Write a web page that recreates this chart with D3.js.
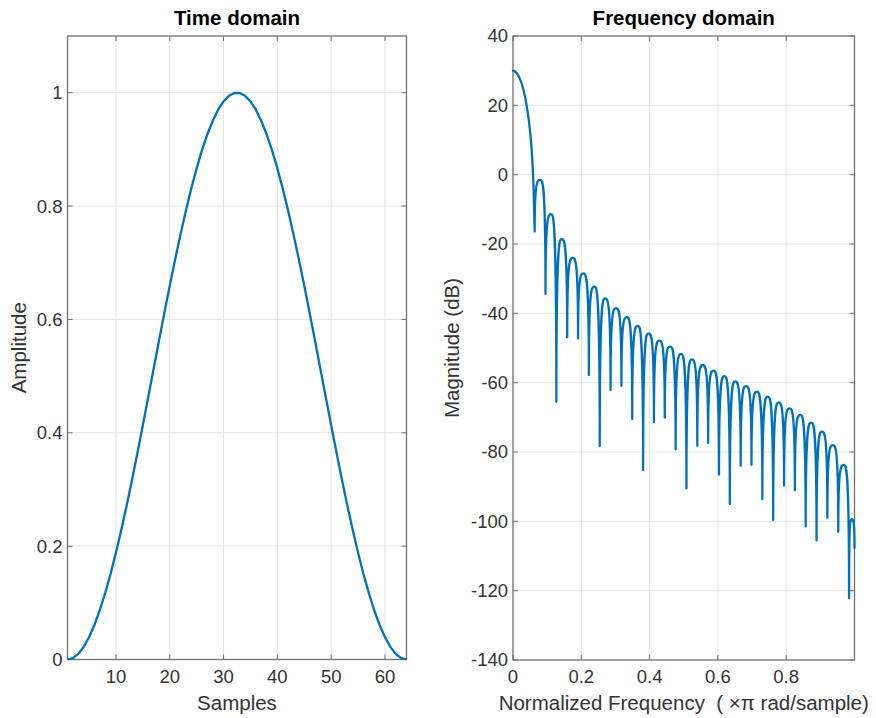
<!DOCTYPE html>
<html>
<head>
<meta charset="utf-8">
<script src="https://cdn.jsdelivr.net/npm/d3@7"></script>
<style>
  body { margin: 0; background: #fff; }
  svg text { font-family: Arial, "Liberation Sans", Helvetica, sans-serif; white-space: pre; }
</style>
</head>
<body>
<div id="chart"></div>
<script>
// Time domain: window amplitude per sample (1..64)
const ampValues = [0, 0.0025, 0.0099, 0.0222, 0.0393, 0.0609, 0.0869, 0.117, 0.1509, 0.1883,
  0.2287, 0.2719, 0.3173, 0.3646, 0.4132, 0.4626, 0.5125, 0.5622, 0.6113, 0.6593,
  0.7057, 0.75, 0.7919, 0.8308, 0.8665, 0.8986, 0.9267, 0.9505, 0.9699, 0.9845,
  0.9944, 0.9994, 0.9994, 0.9944, 0.9845, 0.9699, 0.9505, 0.9267, 0.8986, 0.8665,
  0.8308, 0.7919, 0.75, 0.7057, 0.6593, 0.6113, 0.5622, 0.5125, 0.4626, 0.4132,
  0.3646, 0.3173, 0.2719, 0.2287, 0.1883, 0.1509, 0.117, 0.0869, 0.0609, 0.0393,
  0.0222, 0.0099, 0.0025, 0];
const timeXTicks = [10, 20, 30, 40, 50, 60];
const timeYTicks = [0, 0.2, 0.4, 0.6, 0.8, 1];

// Frequency domain: main lobe, then side lobes between nulls
const mainLobe = [[0, 30], [0.01, 29.4], [0.02, 27.7], [0.03, 24.7], [0.04, 19.9],
  [0.05, 12.5], [0.055, 6.7], [0.06, -3.1], [0.0635, -16.4]];
const nullFreq = [0.0635, 0.0952, 0.1270, 0.1587, 0.1905, 0.2222, 0.2540, 0.2857, 0.3175, 0.3492,
  0.3810, 0.4127, 0.4444, 0.4762, 0.5079, 0.5397, 0.5714, 0.6032, 0.6349, 0.6667,
  0.6984, 0.7302, 0.7619, 0.7937, 0.8254, 0.8571, 0.8889, 0.9206, 0.9524, 0.9841, 1.0];
const nullDb = [-16.4, -34.4, -65.5, -46.9, -47.2, -57.8, -78.3, -62.1, -60.9, -70.5,
  -85.2, -71.4, -70.1, -79.2, -90.5, -78.2, -77.4, -86.5, -95, -84,
  -83.7, -93.6, -99.6, -89.7, -91, -101.5, -105.5, -99, -103, -122.2, -107.7];
const lobePeakDb = [-1.5, -11.4, -18.6, -24, -28.5, -32.3, -35.7, -38.5, -41.1, -43.6,
  -45.8, -47.9, -49.6, -51.7, -53.3, -54.9, -56.5, -58.1, -59.6, -61,
  -62.6, -64, -65.7, -67.4, -69.3, -71.5, -74.1, -78, -83.7, -99.4];
const freqXTicks = [0, 0.2, 0.4, 0.6, 0.8];
const freqYTicks = [-140, -120, -100, -80, -60, -40, -20, 0, 20, 40];

const width = 876, height = 718;
const lineColor = '#0072BD';
const axisColor = '#707070';
const gridColor = '#e3e3e3';
const textColor = '#333333';
const tickLen = 5;

const svg = d3.select('#chart').append('svg')
  .attr('width', width)
  .attr('height', height);
svg.append('rect').attr('width', width).attr('height', height).attr('fill', '#fff');

// draws the box, grid, ticks and labels of one axes
function drawFrame(x, y, xTicks, yTicks, xFmt, yFmt, title, xLabel, yLabel, yLabelX) {
  const [x0, x1] = x.range();
  const [y0, y1] = y.range(); // y0 bottom, y1 top
  const g = svg.append('g');

  // grid
  g.selectAll('.gx').data(xTicks.filter(t => x(t) > x0 + 1)).enter().append('line')
    .attr('x1', d => x(d)).attr('x2', d => x(d))
    .attr('y1', y1).attr('y2', y0)
    .attr('stroke', gridColor).attr('stroke-width', 1);
  g.selectAll('.gy').data(yTicks.filter(t => y(t) < y0 - 1 && y(t) > y1 + 1)).enter().append('line')
    .attr('x1', x0).attr('x2', x1)
    .attr('y1', d => y(d)).attr('y2', d => y(d))
    .attr('stroke', gridColor).attr('stroke-width', 1);

  // ticks, inward on all four sides
  xTicks.forEach(t => {
    g.append('line').attr('x1', x(t)).attr('x2', x(t)).attr('y1', y0).attr('y2', y0 - tickLen)
      .attr('stroke', axisColor);
    g.append('line').attr('x1', x(t)).attr('x2', x(t)).attr('y1', y1).attr('y2', y1 + tickLen)
      .attr('stroke', axisColor);
  });
  yTicks.forEach(t => {
    g.append('line').attr('x1', x0).attr('x2', x0 + tickLen).attr('y1', y(t)).attr('y2', y(t))
      .attr('stroke', axisColor);
    g.append('line').attr('x1', x1).attr('x2', x1 - tickLen).attr('y1', y(t)).attr('y2', y(t))
      .attr('stroke', axisColor);
  });

  // box
  g.append('rect')
    .attr('x', x0).attr('y', y1)
    .attr('width', x1 - x0).attr('height', y0 - y1)
    .attr('fill', 'none').attr('stroke', axisColor).attr('stroke-width', 1.3);

  // tick labels
  g.selectAll('.xl').data(xTicks).enter().append('text')
    .attr('x', d => x(d)).attr('y', y0 + 23)
    .attr('text-anchor', 'middle')
    .attr('font-size', 18.5).attr('fill', textColor)
    .text(xFmt);
  g.selectAll('.yl').data(yTicks).enter().append('text')
    .attr('x', x0 - 5).attr('y', d => y(d))
    .attr('dy', '0.35em')
    .attr('text-anchor', 'end')
    .attr('font-size', 18.5).attr('fill', textColor)
    .text(yFmt);

  // title and axis labels
  g.append('text')
    .attr('x', (x0 + x1) / 2).attr('y', 25)
    .attr('text-anchor', 'middle')
    .attr('font-size', 20.5).attr('font-weight', 'bold').attr('fill', '#000')
    .text(title);
  g.append('text')
    .attr('x', (x0 + x1) / 2).attr('y', 710)
    .attr('text-anchor', 'middle')
    .attr('font-size', 20.5).attr('fill', textColor)
    .text(xLabel);
  g.append('text')
    .attr('transform', 'translate(' + yLabelX + ',' + ((y0 + y1) / 2) + ') rotate(-90)')
    .attr('text-anchor', 'middle')
    .attr('font-size', 20.5).attr('fill', textColor)
    .text(yLabel);
}

// ---- Time domain ----
const xT = d3.scaleLinear().domain([1, 64]).range([67.5, 406.5]);
const yT = d3.scaleLinear().domain([0, 1.1]).range([659.5, 36]);
drawFrame(xT, yT, timeXTicks, timeYTicks, d => d, d => d,
  'Time domain', 'Samples', 'Amplitude', 26);

svg.append('path')
  .datum(ampValues)
  .attr('fill', 'none')
  .attr('stroke', lineColor)
  .attr('stroke-width', 2.3)
  .attr('stroke-linejoin', 'round')
  .attr('d', d3.line().x((d, i) => xT(i + 1)).y(d => yT(d)));

// ---- Frequency domain ----
const xF = d3.scaleLinear().domain([0, 1]).range([513, 854.5]);
const yF = d3.scaleLinear().domain([-140, 40]).range([660, 36]);
drawFrame(xF, yF, freqXTicks, freqYTicks, d => d, d => d,
  'Frequency domain', 'Normalized Frequency  ( \u00D7\u03C0 rad/sample)', 'Magnitude (dB)', 459);

const p = d3.path();
d3.line().x(d => xF(d[0])).y(d => yF(d[1])).curve(d3.curveMonotoneX).context(p)(mainLobe);
// each side lobe: rises steeply out of its null, flattens at its peak
for (let i = 0; i < lobePeakDb.length; i++) {
  const xa = xF(nullFreq[i]), xb = xF(nullFreq[i + 1]);
  const yb = yF(nullDb[i + 1]);
  const xp = (xa + xb) / 2, yp = yF(lobePeakDb[i]);
  const h = (xb - xa) / 2;
  p.bezierCurveTo(xa, yp, xp - 0.5 * h, yp, xp, yp);
  p.bezierCurveTo(xp + 0.5 * h, yp, xb, yp, xb, yb);
}
svg.append('path')
  .attr('d', p.toString())
  .attr('fill', 'none')
  .attr('stroke', lineColor)
  .attr('stroke-width', 2.3)
  .attr('stroke-linejoin', 'round')
  .attr('stroke-linecap', 'round');
</script>
</body>
</html>
